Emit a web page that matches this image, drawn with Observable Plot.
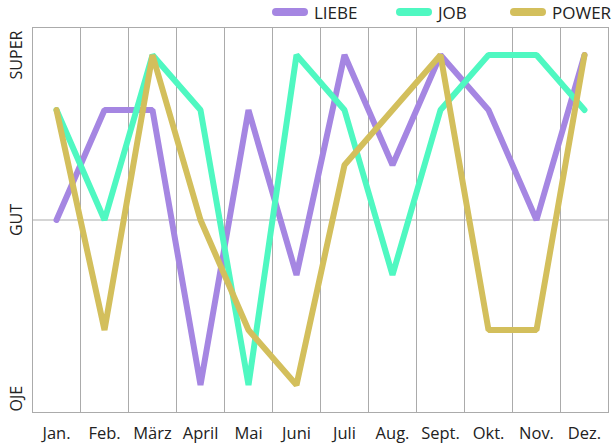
<!DOCTYPE html>
<html><head><meta charset="utf-8">
<script src="https://cdn.jsdelivr.net/npm/d3@7"></script>
<script src="https://cdn.jsdelivr.net/npm/@observablehq/plot@0.6"></script>
<style>
body{margin:0;background:#fff;font-family:"Open Sans",sans-serif;}
#wrap{position:relative;width:616px;height:444px;}
#wrap svg{position:absolute;left:0;top:0;}
.leg{position:absolute;top:0;height:24px;display:flex;align-items:center;font-size:17px;color:#222;z-index:2;}
.sw{width:36px;height:8px;border-radius:4px;margin-right:6px;}
</style></head><body><div id="wrap"></div>
<script>
const months = ["Jan.","Feb.","März","April","Mai","Juni","Juli","Aug.","Sept.","Okt.","Nov.","Dez."];
const liebe = [0, 2, 2, -3, 2, -1, 3, 1, 3, 2, 0, 3];
const job   = [2, 0, 3, 2, -3, 3, 2, -1, 2, 3, 3, 2];
const power = [2, -2, 3, 0, -2, -3, 1, 2, 3, -2, -2, 3];
const seriesNames = ["LIEBE", "JOB", "POWER"];
const seriesColors = ["#a586e2", "#4ff8c1", "#d3bf5c"];
const yTickValues = [3, 0, -3.25];
const yTickLabels = ["SUPER", "GUT", "OJE"];

const seriesValues = [liebe, job, power];
const rows = [];
seriesNames.forEach((s, si) => months.forEach((m, i) => rows.push({series: s, month: m, value: seriesValues[si][i]})));

const grid = "#ababab";
const chart = Plot.plot({
  width: 616, height: 444,
  marginTop: 27, marginBottom: 32, marginLeft: 32, marginRight: 8,
  style: {fontFamily: "Open Sans, sans-serif", background: "transparent", color: "#222"},
  x: {type: "point", domain: months, padding: 0.5, axis: null},
  y: {domain: [-3.5, 3.5], axis: null},
  color: {domain: seriesNames, range: seriesColors},
  marks: [
    Plot.ruleX(months.slice(0, -1), {x: d => d, dx: 24, stroke: grid, strokeWidth: 1}),
    Plot.ruleY([0], {stroke: grid, strokeWidth: 1}),
    Plot.frame({stroke: grid, strokeWidth: 1}),
    Plot.line(rows, {x: "month", y: "value", z: "series", stroke: "series", strokeWidth: 6, strokeLinecap: "round", strokeLinejoin: "miter"}),
    Plot.axisX({tickSize: 0, tickPadding: 15, fontSize: 16.5, fill: "#222", label: null}),
    Plot.text(yTickValues, {y: d => d, text: (d, i) => yTickLabels[i], frameAnchor: "left", textAnchor: "middle", dx: -16, rotate: -90, fontSize: 16, fill: "#222"})
  ]
});
const wrap = document.getElementById("wrap");
wrap.appendChild(chart);

const legLeft = [272, 396, 510];
seriesNames.forEach((s, i) => {
  const d = document.createElement("div");
  d.className = "leg";
  d.style.left = legLeft[i] + "px";
  d.innerHTML = `<span class="sw" style="background:${seriesColors[i]}"></span><span>${s}</span>`;
  wrap.appendChild(d);
});
</script></body></html>
